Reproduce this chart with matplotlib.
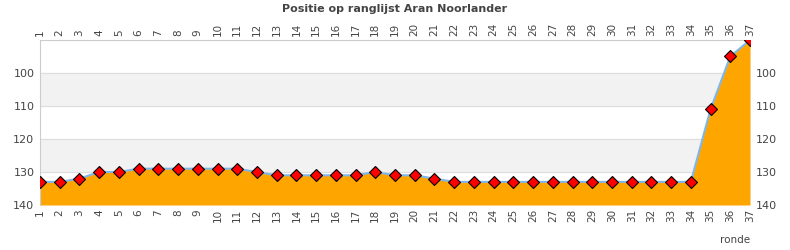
import numpy as np
import matplotlib
matplotlib.use("Agg")
from matplotlib import pyplot as plt

rondes = list(range(1, 38))
positie = [133, 133, 132, 130, 130, 129, 129, 129, 129, 129, 129, 130, 131, 131, 131,
           131, 131, 130, 131, 131, 132, 133, 133, 133, 133, 133, 133, 133, 133, 133,
           133, 133, 133, 133, 111, 95, 90]
yticks = [100, 110, 120, 130, 140]

fig = plt.figure(figsize=(7.9, 2.5), dpi=100)
ax = fig.add_axes([40 / 790, 1 - 205 / 250, 710 / 790, 165 / 250])

# banden
for lo, hi in [(100, 110), (120, 130)]:
    ax.axhspan(lo, hi, color="#f2f2f2", zorder=0)
for y in [100, 110, 120, 130]:
    ax.axhline(y, color="#dddddd", lw=0.8, zorder=0.5)

ax.fill_between(rondes, positie, 140, color="#ffa500", zorder=1, lw=0)
ax.plot(rondes, positie, color="#7eb6e6", lw=1.5, zorder=2)
ax.plot(rondes, positie, ls="none", marker="D", ms=6, mfc="red", mec="black", mew=0.8, zorder=3)

ax.set_xlim(1, 37)
ax.set_ylim(140, 90)
ax.set_xticks(rondes)
ax.set_xticklabels([str(r) for r in rondes], rotation=90, fontsize=7.5, color="#444444")
ax.set_yticks(yticks)
ax.set_yticklabels([str(v) for v in yticks], fontsize=8, color="#444444")
ax.tick_params(axis="x", top=True, labeltop=True, length=0, pad=3)
ax.tick_params(axis="y", right=True, labelright=True, length=0, pad=4)

for s in ["top", "left"]:
    ax.spines[s].set_color("#cccccc")
for s in ["bottom", "right"]:
    ax.spines[s].set_visible(False)

fig.text(0.5, 0.985, "Positie op ranglijst Aran Noorlander", ha="center", va="top",
         fontsize=8, fontweight="bold", color="#444444")
fig.text(750 / 790, 0.02, "ronde", ha="right", va="bottom", fontsize=7.5, color="#444444")

fig.savefig("out.png", dpi=100)
